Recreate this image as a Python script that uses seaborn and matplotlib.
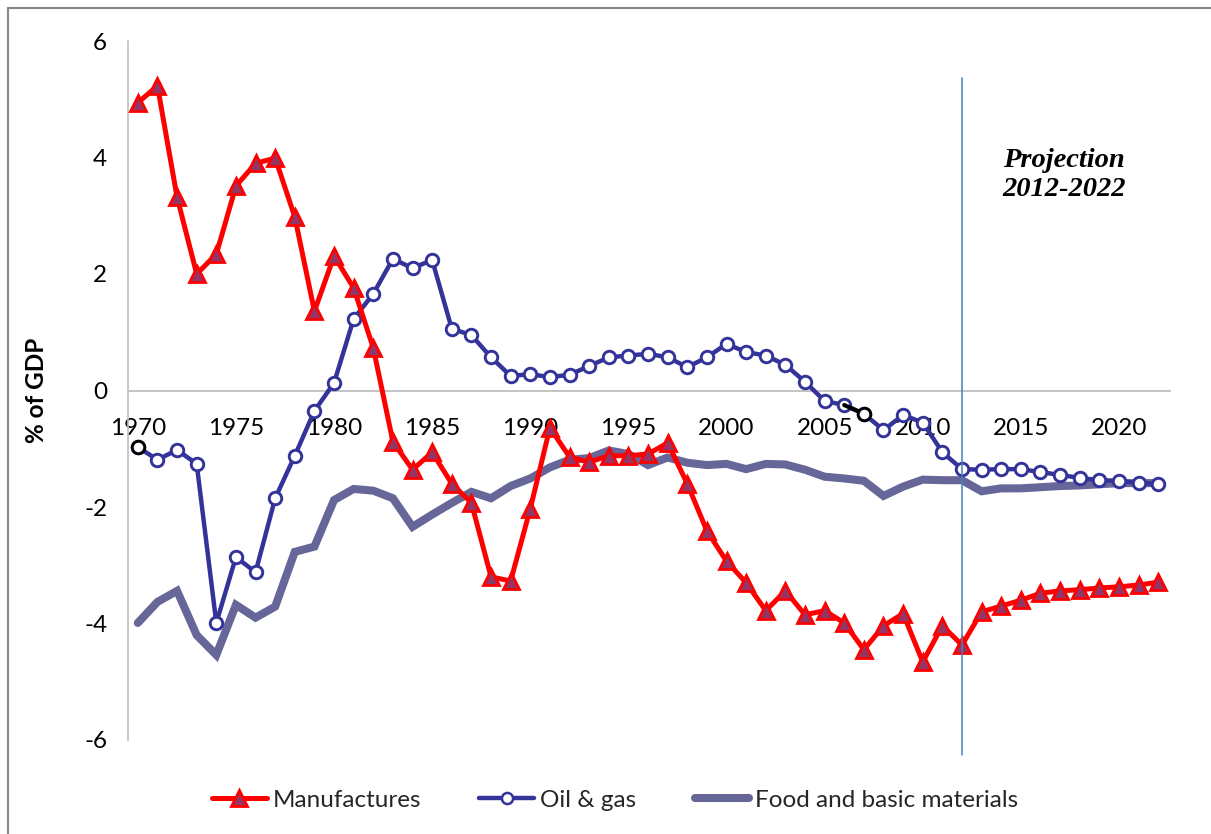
import matplotlib
matplotlib.use("Agg")
import matplotlib.pyplot as plt
import seaborn as sns
import numpy as np
import pandas as pd
from matplotlib.lines import Line2D
from matplotlib.patches import Rectangle

years = list(range(1970, 2023))

manufactures = [4.94, 5.23, 3.32, 2.00, 2.34, 3.51, 3.90, 3.99, 2.98, 1.36,
                2.31, 1.76, 0.73, -0.88, -1.36, -1.06, -1.60, -1.93, -3.20, -3.27,
                -2.03, -0.64, -1.14, -1.23, -1.12, -1.12, -1.09, -0.90, -1.60, -2.41,
                -2.93, -3.30, -3.78, -3.44, -3.85, -3.78, -3.99, -4.45, -4.04, -3.83,
                -4.66, -4.04, -4.37, -3.80, -3.70, -3.60, -3.48, -3.44, -3.42, -3.39,
                -3.37, -3.34, -3.29]

oil_gas = [-0.97, -1.19, -1.02, -1.26, -3.99, -2.86, -3.12, -1.85, -1.12, -0.35,
           0.13, 1.23, 1.66, 2.26, 2.10, 2.24, 1.06, 0.95, 0.57, 0.25,
           0.28, 0.23, 0.27, 0.42, 0.57, 0.60, 0.63, 0.57, 0.40, 0.57,
           0.80, 0.66, 0.60, 0.44, 0.15, -0.18, -0.25, -0.40, -0.68, -0.42,
           -0.55, -1.06, -1.35, -1.36, -1.35, -1.35, -1.40, -1.45, -1.50, -1.54,
           -1.55, -1.59, -1.60]

food_basic = [-3.99, -3.63, -3.44, -4.20, -4.54, -3.68, -3.90, -3.71, -2.77, -2.68,
              -1.88, -1.69, -1.72, -1.85, -2.34, -2.13, -1.93, -1.74, -1.85, -1.64,
              -1.51, -1.32, -1.19, -1.16, -1.03, -1.09, -1.28, -1.15, -1.24, -1.28,
              -1.26, -1.35, -1.26, -1.27, -1.36, -1.48, -1.51, -1.55, -1.81, -1.65,
              -1.53, -1.54, -1.54, -1.73, -1.68, -1.68, -1.66, -1.64, -1.63, -1.61,
              -1.59, -1.59, -1.59]

series_names = ["Manufactures", "Oil & gas", "Food and basic materials"]
x_ticks = [1970, 1975, 1980, 1985, 1990, 1995, 2000, 2005, 2010, 2015, 2020]
y_ticks = [-6, -4, -2, 0, 2, 4, 6]
highlight_years = [1970, 2007]
projection_start = 2012
projection_text = "Projection\n2012-2022"
y_label = "% of GDP"

df = pd.DataFrame({"year": years, "Manufactures": manufactures,
                   "Oil & gas": oil_gas, "Food and basic materials": food_basic})

sns.set_theme(style="white")
plt.rcParams['font.family'] = ['Lato', 'DejaVu Sans']

fig = plt.figure(figsize=(12.11, 8.34), dpi=100)
ax = fig.add_axes([128/1211, 1 - 740/834, (1170-128)/1211, (740-41)/834])

RED = "#FF0000"
TRI = "#943565"
BLUE = "#333399"
FOOD = "#666699"

sns.lineplot(data=df, x="year", y="Food and basic materials", ax=ax,
             color=FOOD, linewidth=5.8, zorder=2, solid_joinstyle='miter')
sns.lineplot(data=df, x="year", y="Oil & gas", ax=ax, color=BLUE, linewidth=3.2,
             marker="o", markersize=9, markerfacecolor="white",
             markeredgecolor=BLUE, markeredgewidth=2.1, zorder=3)
# highlighted points (black)
hl = df[df["year"].isin(highlight_years)]
seg = df[(df["year"] >= 2006) & (df["year"] <= 2007)]
ax.plot(seg["year"], seg["Oil & gas"], color="black", linewidth=3.0, zorder=3.1)
sns.scatterplot(data=hl, x="year", y="Oil & gas", ax=ax, s=81, marker="o",
                facecolor="white", edgecolor="black", linewidth=2.1, zorder=3.2)
sns.lineplot(data=df, x="year", y="Manufactures", ax=ax, color=RED, linewidth=3.6,
             marker="^", markersize=12, markerfacecolor=TRI,
             markeredgecolor=RED, markeredgewidth=2, zorder=4)

ax.set_xlim(1969.5, 2022.6)
ax.set_ylim(-6, 6)

# axes styling
for s in ["top", "right"]:
    ax.spines[s].set_visible(False)
ax.spines["left"].set_color("#BFBFBF")
ax.spines["left"].set_linewidth(1.2)
ax.spines["bottom"].set_position(("data", 0))
ax.spines["bottom"].set_color("#BFBFBF")
ax.spines["bottom"].set_linewidth(1.3)
ax.spines["bottom"].set_zorder(1)

ax.set_xticks(x_ticks)
ax.set_xticklabels([str(t) for t in x_ticks])
ax.set_yticks(y_ticks)
ax.set_yticklabels([str(t) for t in y_ticks])
ax.tick_params(axis="x", length=0, pad=20, labelsize=17.5, labelcolor="black")
ax.tick_params(axis="y", length=0, pad=15, labelsize=17.5, labelcolor="black")
ax.set_xlabel("")
ax.set_ylabel(y_label, fontsize=17.5, fontweight="bold", labelpad=26, color="black")

# projection marker line
ax.plot([projection_start, projection_start], [5.36, -6.26], color="#4A7EBB",
        linewidth=1.1, clip_on=False, zorder=5)
ax.text(2017.2, 3.7, projection_text, ha="center", va="center",
        fontsize=20.5, fontweight="bold", fontstyle="italic",
        family=["Liberation Serif"], linespacing=1.25, color="black")

# legend
handles = [
    Line2D([], [], color=RED, linewidth=3.6, marker="^", markersize=12,
           markerfacecolor=TRI, markeredgecolor=RED, markeredgewidth=2),
    Line2D([], [], color=BLUE, linewidth=3.2, marker="o", markersize=8,
           markerfacecolor="white", markeredgecolor=BLUE, markeredgewidth=1.8),
    Line2D([], [], color=FOOD, linewidth=5.8),
]
fig.legend(handles, series_names, loc="center", bbox_to_anchor=(0.508, 1 - 800/834),
           ncol=3, frameon=False, fontsize=17.5, handlelength=2.25,
           handletextpad=0.25, columnspacing=2.4)

# figure border
fig.patches.append(Rectangle((8/1211, -0.1), 1.2, 1 - 8/834 + 0.1,
                             transform=fig.transFigure, fill=False,
                             edgecolor="#888888", linewidth=1.5))

fig.savefig("out.png", dpi=100)
